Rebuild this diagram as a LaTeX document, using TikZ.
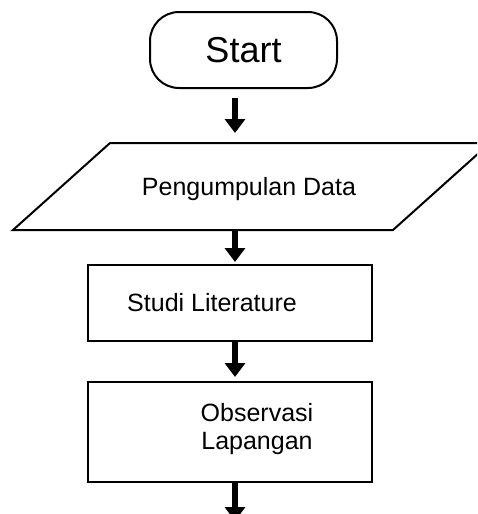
\documentclass[tikz,border=0pt]{standalone}
\usepackage{fontspec}
\setmainfont{Liberation Sans}
\usetikzlibrary{arrows.meta}
\begin{document}
\begin{tikzpicture}[x=1pt,y=-1pt,
  shapeline/.style={draw=black, line width=2pt},
  termbox/.style={shapeline, rounded corners=29pt, minimum width=187pt, minimum height=76pt, inner sep=0pt, font=\fontsize{36}{40}\selectfont},
  procbox/.style={shapeline, minimum width=284pt, inner sep=0pt},
  txt/.style={inner sep=0pt, font=\fontsize{25}{28}\selectfont, align=center},
  fat/.style={line width=6.5pt, -{Triangle[width=20pt,length=14pt]}}
]
\clip (0,0) rectangle (477,514);
\fill[white] (0,0) rectangle (477,514);

% Start
\node[termbox] (start) at (243.5,50) {Start};

% Parallelogram
\coordinate (ptl) at (110,143);
\coordinate (ptr) at (490,143);
\coordinate (pbr) at (393,230);
\coordinate (pbl) at (13,230);
\draw[shapeline, line join=miter] (ptl) -- (ptr) -- (pbr) -- (pbl) -- cycle;
\node[txt] (data) at (249,189) {Pengumpulan Data};

% Studi Literature
\node[procbox, minimum height=76pt] (studi) at (230,303) {};
\node[txt] (studitxt) at (212,303) {Studi Literature};

% Observasi
\node[procbox, minimum height=100pt] (obs) at (230,432) {};
\node[txt] (obstxt) at (257,429) {Observasi\\Lapangan};

\coordinate (ax) at (235,0);
\coordinate (aend) at (235,521);

\draw[fat, shorten <=9pt, shorten >=10pt] (start.south -| ax) -- (ptl -| ax);
\draw[fat, shorten >=2pt] (pbl -| ax) -- (studi.north -| ax);
\draw[fat, shorten >=4pt] (studi.south -| ax) -- (obs.north -| ax);
\draw[fat] (obs.south -| ax) -- (aend);
\end{tikzpicture}
\end{document}
